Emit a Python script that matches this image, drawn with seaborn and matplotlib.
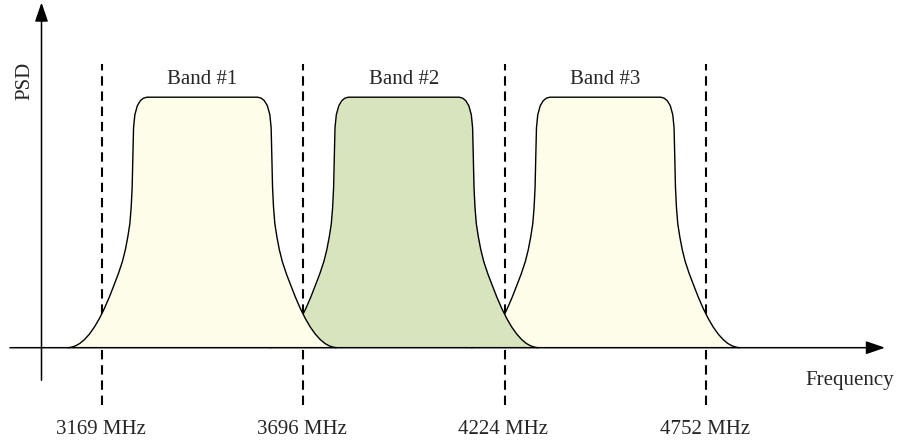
import numpy as np
import pandas as pd
import matplotlib
matplotlib.use("Agg")
import matplotlib.pyplot as plt
import seaborn as sns

# ---- data ----
band_names = ["Band #1", "Band #2", "Band #3"]
band_centers_mhz = [3432, 3960, 4488]
band_fill = ["#FEFDE9", "#D7E4BD", "#FEFDE9"]
edge_freqs_mhz = [3169, 3696, 4224, 4752]
edge_labels = ["3169 MHz", "3696 MHz", "4224 MHz", "4752 MHz"]
# one-sided PSD profile (offset from band centre in MHz, relative level)
profile_offset_mhz = [0, 145.5, 154.6, 162.5, 170.4, 176.9, 180.3, 182.2, 184.0,
                      186.6, 190.0, 195.3, 201.8, 209.7, 220.2, 232.0, 243.8,
                      256.9, 270.0, 283.1, 296.2, 309.3, 321.1, 332.9, 343.4,
                      351.2]
profile_level = [1.0, 1.0, 0.996, 0.986, 0.966, 0.930, 0.878, 0.758, 0.639,
                 0.559, 0.495, 0.443, 0.391, 0.343, 0.295, 0.248, 0.202,
                 0.156, 0.116, 0.082, 0.054, 0.032, 0.017, 0.007, 0.002, 0.0]

sns.set_style("white")
plt.rcParams["font.family"] = ["Liberation Serif", "DejaVu Serif"]

fig = plt.figure(figsize=(9.02, 4.42), dpi=100)
ax = fig.add_axes([0, 0, 1, 1])

px = 1583 / 604.0            # MHz per pixel
x_left = 3169 - 102 * px
x_right = x_left + 902 * px
y_bot, y_top = -(442 - 347.7) / 250.5, 347.7 / 250.5

off = np.array(profile_offset_mhz, dtype=float)
lev = np.array(profile_level, dtype=float)
full_off = np.concatenate([-off[::-1], off[1:]])
full_lev = np.concatenate([lev[::-1], lev[1:]])

# dashed band edges (behind the bands)
for f in edge_freqs_mhz:
    ax.plot([f, f], [-0.23, 1.134], color="black", lw=1.5,
            dashes=(4.5, 2.8), zorder=1)

# bands: band 3 bottom, band 1 on top
for i in reversed(range(len(band_centers_mhz))):
    c = band_centers_mhz[i]
    df = pd.DataFrame({"f": c + full_off, "psd": full_lev})
    z = 2 + (len(band_centers_mhz) - i) * 2
    ax.fill_between(df["f"], 0, df["psd"], color=band_fill[i], lw=0, zorder=z)
    sns.lineplot(data=df, x="f", y="psd", ax=ax, color="black", lw=1.0,
                 estimator=None, sort=False, zorder=z + 1)
    ax.text(c, 1.07, band_names[i], ha="center", va="center", fontsize=15)

for f, lab in zip(edge_freqs_mhz, edge_labels):
    ax.text(f - 3, -0.326, lab, ha="center", va="center", fontsize=15)

# axes arrows
y_axis_x = x_left + 41.5 * px
ax.annotate("", xy=(y_axis_x, 1.378), xytext=(y_axis_x, -0.13),
            arrowprops=dict(arrowstyle="-|>,head_length=0.58,head_width=0.2",
                            mutation_scale=20, lw=1.1, color="black",
                            shrinkA=0, shrinkB=0), zorder=20)
ax.annotate("", xy=(x_left + 885 * px, 0), xytext=(x_left + 10 * px, 0),
            arrowprops=dict(arrowstyle="-|>,head_length=0.58,head_width=0.2",
                            mutation_scale=20, lw=1.1, color="black",
                            shrinkA=0, shrinkB=0), zorder=20)

ax.text(x_left + 850 * px, -0.13, "Frequency", ha="center", va="center",
        fontsize=15)
ax.text(x_left + 25 * px, 1.066, "PSD", ha="center", va="center",
        fontsize=15, rotation=90)

ax.set_xlim(x_left, x_right)
ax.set_ylim(y_bot, y_top)
ax.axis("off")

fig.savefig("out.png", dpi=100)
